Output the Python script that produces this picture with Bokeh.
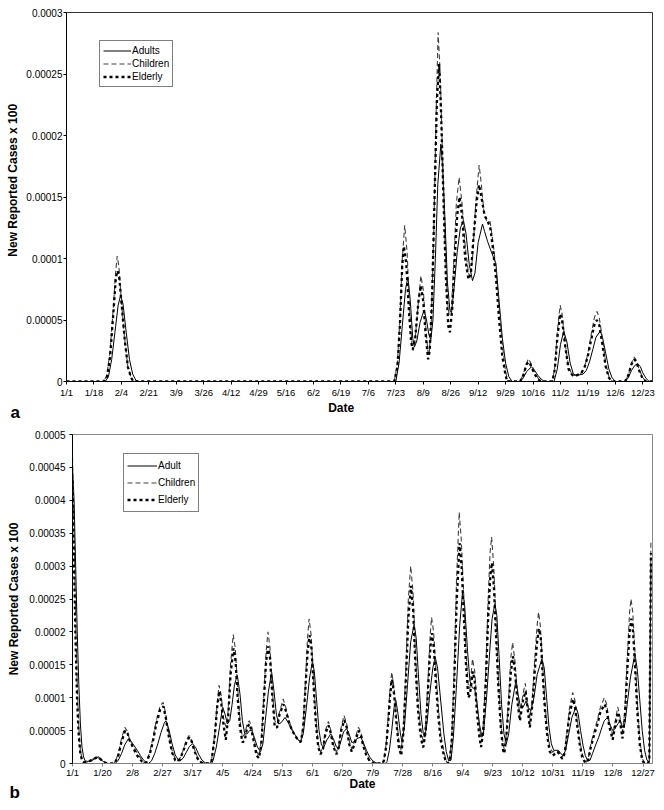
from bokeh.plotting import figure
from bokeh.models import (Range1d, FixedTicker, Legend, LegendItem, Title)
from bokeh.embed import file_html
from bokeh.resources import INLINE

# ---------------- DATA (values in units of 1e-5; x = day of year, 0 = 1/1) ----
SCALE = 1e-5

# Panel a
a_xtick_days = [0, 17, 34, 51, 68, 85, 102, 119, 136, 153, 170, 187, 204, 221,
                238, 255, 272, 289, 306, 323, 340, 357]
a_xtick_labels = ["1/1", "1/18", "2/4", "2/21", "3/9", "3/26", "4/12", "4/29",
                  "5/16", "6/2", "6/19", "7/6", "7/23", "8/9", "8/26", "9/12",
                  "9/29", "10/16", "11/2", "11/19", "12/6", "12/23"]
a_yticks = [0, 0.00005, 0.0001, 0.00015, 0.0002, 0.00025, 0.0003]
a_ytick_labels = ["0", "0.00005", "0.0001", "0.00015", "0.0002", "0.00025", "0.0003"]

a_adults = [(0, 0), (24, 0), (26, 0.4), (28, 1.8), (30, 4), (32, 6.2), (33.5, 7),
            (35, 6.3), (37, 4), (39, 1.8), (41, 0.6), (43, 0.1), (45, 0),
            (204, 0), (206, 1.5), (208, 4.5), (210, 7.5), (211.5, 8.5), (213, 6.5),
            (214.5, 3.5), (215.5, 2.8), (217, 3.3), (219, 4.8), (221.5, 5.8), (223, 5.0),
            (224.5, 3.8), (225.7, 3.4), (227, 5), (228.5, 10), (230, 16), (231.9, 19.3),
            (233, 17.5), (234.5, 13), (236, 8), (237.5, 5.8), (238.5, 5.6), (240, 7.5),
            (242, 10.5), (244, 12.5), (245.9, 13.1), (247.5, 12), (249.5, 9.5),
            (251.5, 8.2), (253, 8.8), (255, 11.3), (257.7, 12.8), (259, 12.2),
            (260.8, 11.4), (263, 10.6), (266, 9.6), (268, 6.5), (270, 3.5), (272, 1.5),
            (274, 0.4), (276, 0),
            (281, 0), (283, 0.3), (285, 0.8), (288, 1.2), (290, 0.9), (292, 0.5),
            (294, 0.2), (296, 0),
            (302, 0), (304, 1), (306, 3), (308, 4.1), (310, 3.2), (312, 1.5), (314, 0.6),
            (316, 0.5), (320, 0.6), (322, 0.9), (324, 1.6), (326, 2.6), (328, 3.6),
            (330.6, 4.1), (332, 3.6), (334, 2.3), (336, 1), (338, 0.3), (340, 0),
            (346, 0), (348, 0.3), (350, 0.9), (352, 1.3), (353.8, 1.45), (355.5, 1.2),
            (357, 0.7), (359, 0.25), (361, 0), (363, 0)]

a_children = [(0, 0), (23, 0), (25, 0.5), (27, 2.5), (29, 6), (30.5, 9), (31.4, 10.2),
              (32.5, 9.3), (34, 6.5), (36, 3.5), (38, 1.2), (40, 0.3), (41.5, 0),
              (203, 0), (205, 1.5), (206.5, 5), (208, 10), (209.5, 12.7), (211, 10.5),
              (212.5, 6), (214, 3), (214.7, 2.5), (216, 3.5), (218, 6.5), (219.5, 8.6),
              (221, 7.5), (222.5, 4.5), (224, 2.3), (224.6, 2.1), (226, 5), (227.5, 12),
              (229, 22), (230.2, 28.4), (231.5, 25), (233, 18), (234.5, 11), (236, 6.5),
              (237, 5.4), (238.5, 6), (240, 10), (241.5, 14.5), (243.2, 16.6), (245, 14.5),
              (247, 11), (249, 8.8), (250, 8.5), (251.5, 10), (253.5, 14.5), (255.6, 17.6),
              (257, 16), (258.7, 13.6), (260.5, 13), (262.4, 13), (264, 11.5), (266, 9.3),
              (268, 6), (270, 3), (272, 0.8), (273.5, 0),
              (281, 0), (283, 0.6), (285, 1.5), (286.2, 1.85), (288, 1.4), (290, 0.8),
              (292, 0.3), (294, 0),
              (301, 0), (302.5, 1.2), (304, 4), (305.8, 6.2), (307, 5.5), (309, 3),
              (311, 1.2), (313.5, 0.5), (316, 0.5), (319, 0.7), (321, 1.2), (323, 2.3),
              (325, 3.8), (327, 5.2), (328.6, 5.7), (330, 5.2), (332, 3.5), (334, 1.5),
              (336, 0.4), (338, 0),
              (346, 0), (348, 0.5), (350, 1.5), (351.7, 2), (353, 1.7), (355, 0.9),
              (357, 0.3), (359, 0), (363, 0)]

a_elderly = [(0, 0), (23, 0), (25, 0.3), (27, 2), (29, 5.5), (30.5, 8.3), (31.5, 9),
             (32.5, 8.7), (34, 6.5), (36, 3.5), (38, 1.2), (40, 0.3), (41.5, 0),
             (203, 0), (205, 1.2), (206.5, 4.5), (208, 9.5), (209, 11), (210.5, 9.5),
             (212, 6), (213.5, 3.2), (214.5, 2.6), (216, 3.5), (218, 6.5), (219.5, 7.8),
             (221, 6.5), (222.5, 3.8), (224, 1.8), (225, 2.5), (226.5, 7), (228, 15),
             (229.5, 23), (230.8, 25.8), (232, 22), (233.5, 15), (235, 8.5), (236.5, 4.5),
             (237.5, 4.0), (239, 6), (240.5, 10), (242, 13.5), (243.5, 15), (245, 13.5),
             (247, 10), (249, 8.3), (250.5, 8.8), (252, 11.5), (254, 14.5), (255.5, 16),
             (257, 15), (259, 13.5), (261, 13), (262.5, 12.5), (264, 11), (266, 8.5),
             (268, 5), (270, 2), (272, 0.5), (273, 0),
             (281, 0), (283, 0.5), (285, 1.4), (286.5, 1.6), (288, 1.2), (290, 0.6),
             (292, 0.2), (294, 0),
             (301, 0), (302.5, 1), (304, 3.5), (305.8, 5.5), (307, 5), (309, 2.8),
             (311, 1), (313.5, 0.5), (316, 0.5), (319, 0.7), (321, 1.2), (323, 2.1),
             (325, 3.4), (327, 4.6), (328.5, 5), (330, 4.6), (332, 3), (334, 1.2),
             (336, 0.3), (338, 0),
             (346, 0), (348, 0.5), (350, 1.4), (351.7, 1.8), (353, 1.6), (355, 0.8),
             (357, 0.2), (359, 0), (363, 0)]

# Panel b
b_xtick_days = [0, 19, 38, 57, 76, 95, 114, 133, 152, 171, 190, 209, 228, 247,
                266, 285, 304, 323, 342, 361]
b_xtick_labels = ["1/1", "1/20", "2/8", "2/27", "3/17", "4/5", "4/24", "5/13",
                  "6/1", "6/20", "7/9", "7/28", "8/16", "9/4", "9/23", "10/12",
                  "10/31", "11/19", "12/8", "12/27"]
b_yticks = [0, 0.00005, 0.0001, 0.00015, 0.0002, 0.00025, 0.0003, 0.00035,
            0.0004, 0.00045, 0.0005]
b_ytick_labels = ["0", "0.00005", "0.0001", "0.00015", "0.0002", "0.00025",
                  "0.0003", "0.00035", "0.0004", "0.00045", "0.0005"]

b_adult = [(0, 45), (1, 40), (2, 30), (3, 20), (4, 12), (5, 6), (6, 2.5), (7, 1), (8, 0.4),
           (10, 0.3), (12, 0.4), (14, 0.7), (16, 0.9), (18, 0.6), (20, 0.2), (22, 0), (27, 0),
           (29, 0.5), (31, 1.5), (33, 2.8), (35.3, 3.75), (37, 3.4), (39, 2.7), (41, 2),
           (43, 1.2), (45, 0.5), (47, 0.1), (48, 0),
           (50, 0.4), (52, 1.5), (54, 3), (56, 4.7), (58, 6.1), (59.1, 6.5), (61, 5.2),
           (63, 3), (65, 1.3), (67, 0.5), (68, 0.4), (70, 0.8), (72, 1.7), (74, 2.6),
           (76, 3), (78, 2.4), (80, 1.3), (82, 0.5), (84, 0.1), (86, 0), (88, 0),
           (89, 0.5), (91, 2.5), (93, 5.5), (95, 8.6), (96.5, 7.5), (98, 6), (99.5, 6.5),
           (101, 9), (102.5, 12), (104.3, 13.4), (106, 10.5), (107.5, 6.5), (109, 4.5),
           (110.5, 4.5), (112, 5), (113.5, 5), (115, 4), (117, 2.5), (119, 1.8),
           (120.5, 3), (122, 6.5), (124, 11), (126, 13.9), (127.5, 11), (129, 7.5),
           (130.5, 6), (132, 6.2), (134.5, 7), (136.5, 6.2), (139, 5), (141, 4.3),
           (143, 3.5), (144.5, 3.4), (146, 4.5), (148, 8.5), (150, 13), (151.8, 15.5),
           (153, 14), (154.5, 9.5), (156, 5), (157.5, 2.8), (159, 2.5), (161, 3.6),
           (163.4, 4.5), (165, 3.8), (167, 2.5), (168.5, 2.3), (170, 3.5), (171.5, 4.8),
           (173.5, 5.3), (175, 4.5), (176.7, 3.2), (178.5, 3.3), (180, 3.8), (182.4, 4),
           (184, 3.2), (186, 2), (188, 1), (190, 0.4), (192, 0.1), (194, 0), (198, 0),
           (199, 0.3), (200.5, 2), (202, 5), (203.5, 8.5), (204.6, 9.6), (206, 7.5),
           (207.5, 4.5), (208.5, 3.3), (210, 5.5), (212, 12), (214, 18.5), (216.2, 21.2),
           (217.5, 19), (219, 13), (220.5, 7.5), (222, 4.5), (223, 4), (224.5, 6.5),
           (226, 10.5), (228, 14.5), (229.5, 16.2), (231, 14.5), (233, 9.5), (235, 4.5),
           (236.5, 1.8), (238, 0.4), (239.5, 0.5), (241, 4), (243, 12), (245, 21),
           (246.8, 26), (248, 24.5), (250, 17), (251.5, 12.5), (253, 11.5), (254.5, 11.4),
           (256, 9), (257.5, 6), (259, 4), (260, 4.5), (262, 10), (264, 17), (265.5, 22),
           (267.3, 24.3), (268.5, 22.5), (270, 16), (271.5, 9), (273, 4.5), (274.5, 3),
           (276, 4.5), (278, 9), (280.6, 12.6), (282, 10.5), (283.5, 8.5), (285, 8.5),
           (287, 9.5), (288.5, 8.5), (290, 8), (292, 10), (294, 13.5), (297, 15.9),
           (298.5, 14.5), (300, 10), (301.5, 5.5), (303, 3), (304.5, 2), (306, 2),
           (307.5, 2), (309, 1.5), (310.5, 1.2), (312, 2), (314, 4.5), (316, 7),
           (318.6, 8.6), (320, 7.5), (321.5, 5), (323, 2.8), (324.5, 1.2), (326, 0.4),
           (327.5, 0.5), (329, 1.5), (331, 2.8), (333, 4), (335, 5.5), (336.5, 6.5),
           (338.6, 7), (340, 6), (341.8, 5), (343, 5.2), (345, 6), (346.5, 6.5),
           (348, 5.5), (349.5, 6), (351, 9), (353, 13), (355.9, 16.7), (357.5, 14),
           (359, 9.5), (360.5, 5), (362, 2), (363.5, 0.5), (365, 0.2), (366, 30)]

b_children = [(0, 46.5), (1, 35), (2, 22), (3, 12), (4, 5.5), (5, 2), (6, 0.7), (7, 0.3),
              (9, 0.2), (11, 0.4), (13, 0.7), (15, 1), (16.5, 1), (18, 0.7), (20, 0.3),
              (22, 0), (26, 0),
              (27, 0.3), (29, 1.5), (31, 3.8), (33.1, 5.5), (34.5, 5), (36, 3.8), (38, 2.8),
              (40, 2), (42, 1.2), (44, 0.5), (46, 0),
              (47, 0.4), (49, 1.8), (51, 4), (53, 6.5), (55.5, 8.8), (57.4, 9.3), (59, 7.5),
              (61, 4.5), (63, 2), (65, 0.7), (66.5, 0.4), (68, 0.8), (70, 2), (72, 3.5),
              (73.7, 4.25), (75.5, 3.5), (77, 2.3), (79, 1), (81, 0.3), (83, 0), (87, 0),
              (88, 0.5), (90, 4.5), (91.5, 9), (92.7, 11.9), (94, 10.5), (95.5, 7),
              (97, 5.6), (98.5, 8), (100, 15), (101.7, 19.6), (103, 17.5), (104.5, 11.5),
              (106, 6.5), (107.5, 4), (109, 4.5), (110.5, 6), (111.9, 6.5), (113.5, 5.5),
              (115, 3.5), (116.5, 1.8), (118, 1.2), (119.5, 3.5), (121, 10), (122.5, 17),
              (123.7, 20), (125, 17.5), (126.5, 11), (128, 6.5), (129.5, 6), (131, 7.8),
              (133.3, 9.8), (135, 8.5), (137, 6.5), (139, 5.2), (141, 4.3), (143, 3.5),
              (144.5, 3.3), (146, 6), (147.5, 13), (148.7, 19), (149.7, 22), (151, 19.5),
              (152.5, 13), (154, 7), (155.5, 3), (157, 1.7), (158.5, 2.5), (160, 5),
              (161.9, 6.4), (163.5, 5), (165, 3), (167, 1.7), (168.5, 2.8), (170, 5.5),
              (171.8, 7.3), (173.5, 6), (175, 3.5), (176.7, 2.2), (178.5, 3.5),
              (180.9, 5.5), (182.5, 4.8), (184, 3), (186, 1.5), (188, 0.5), (190, 0.1),
              (191, 0), (196, 0),
              (197, 0.5), (198.5, 3), (200, 8), (201, 11.5), (202, 13.9), (203.5, 11.5),
              (205, 7), (206.5, 3.5), (208, 2), (209.5, 6), (211, 15), (212.5, 25),
              (214, 30), (215.5, 26), (217, 17), (218.5, 10), (220, 6), (221.5, 3.8),
              (222, 3.5), (223.5, 6), (225, 13), (226.3, 19.5), (227.2, 22.2), (228.5, 20),
              (230, 14), (231.5, 8.5), (233, 4.5), (235, 1.8), (236.5, 0.4), (237.5, 0),
              (238.5, 0.3), (240, 4), (241.5, 14), (243, 28), (244.7, 38.2), (246, 34),
              (247.5, 26), (249, 17), (250.5, 11.5), (251.5, 11.5), (253.1, 15.9),
              (254.5, 14), (256, 9), (257.5, 5.5), (258.5, 3.8), (260, 6), (261.5, 14),
              (263, 25), (264.2, 32), (265.2, 34.4), (266.5, 30), (268, 22), (269.5, 13),
              (271, 6.5), (272.5, 2.8), (273.2, 2.2), (274.5, 4.5), (276, 10), (277.3, 16),
              (278.5, 18.4), (280, 15.5), (281.5, 10.5), (283.1, 7.3), (285, 10.5),
              (286.5, 12.2), (288, 9), (289.4, 7), (291, 10), (292.5, 16), (294, 21),
              (294.9, 23), (296, 21), (297.5, 15), (299, 9), (300.5, 5), (302, 2.5),
              (303.8, 1.7), (305.5, 2), (307, 2), (308.5, 1.5), (310, 1), (311.5, 2),
              (313, 5), (314.5, 8.5), (316.5, 10.8), (318, 9.5), (319.5, 6.5), (321, 3.5),
              (322.5, 1.5), (324, 0.5), (325.3, 0.2), (326.5, 1), (328, 3), (330.2, 5),
              (332, 6.5), (334, 8.5), (336.5, 10), (338, 9), (339.5, 6.5), (341.8, 4.3),
              (343.5, 6.5), (345, 8.6), (346.5, 7), (348, 4.8), (349.5, 8), (351, 16),
              (352.5, 23), (353.4, 25), (354.5, 23), (356, 16.5), (357.5, 9), (359, 3.5),
              (360.5, 0.8), (362, 0), (364, 0), (365, 0.5), (366, 34)]

b_elderly = [(0, 43), (1, 30), (2, 18), (3, 9), (4, 4), (5, 1.5), (6, 0.5), (7, 0.2),
             (9, 0.2), (11, 0.4), (13, 0.6), (15, 0.9), (16.5, 0.9), (18, 0.6), (20, 0.2),
             (22, 0), (26, 0),
             (27, 0.2), (29, 1.2), (31, 3.3), (33.3, 5), (34.8, 4.6), (36, 3.6), (38, 2.6),
             (40, 1.6), (42, 0.8), (44, 0.3), (46, 0),
             (47, 0.3), (49, 1.5), (51, 3.5), (53, 6), (55.5, 8.2), (57.5, 8.7), (59, 7),
             (61, 4), (63, 1.7), (65, 0.5), (66.5, 0.3), (68, 0.7), (70, 1.8), (72, 3.2),
             (73.9, 4), (75.5, 3.3), (77, 2), (79, 0.8), (81, 0.2), (83, 0), (87, 0),
             (88, 0.4), (90, 4), (91.5, 8.5), (92.9, 11), (94, 9.5), (95.5, 6), (97, 3.6),
             (98.5, 7), (100, 13.5), (101.9, 17.5), (103.2, 15.5), (104.5, 10), (106, 5.5),
             (107.5, 3.2), (109, 3.5), (110.5, 5.5), (112, 6), (113.5, 4.8), (115, 3),
             (116.5, 1.2), (118, 0.8), (119.5, 3), (121, 9), (122.5, 15.5), (123.8, 17.8),
             (125, 16), (126.5, 10), (128, 5.5), (129.5, 5.5), (131, 7.5), (133.5, 9),
             (135, 8), (137, 6.2), (139, 5), (141, 4.2), (143, 3.4), (144.5, 3.3),
             (146, 5.5), (147.5, 12), (148.8, 17), (150, 19.5), (151.2, 17.5), (152.5, 12),
             (154, 6), (155.5, 2.5), (157, 1.4), (158.5, 2.2), (160, 4.5), (162, 5.8),
             (163.5, 4.5), (165, 2.6), (167, 1.4), (168.5, 2.5), (170, 5), (172, 6.6),
             (173.5, 5.5), (175, 3), (176.7, 1.8), (178.5, 3), (181, 5), (182.5, 4.3),
             (184, 2.6), (186, 1.2), (188, 0.4), (190, 0.1), (191, 0), (196, 0),
             (197, 0.4), (198.5, 2.6), (200, 7), (201, 10.5), (202.2, 12.8), (203.5, 10.5),
             (205, 6), (206.5, 2.5), (208, 1.2), (209.5, 5), (211, 13), (212.5, 22),
             (214.2, 27), (215.5, 23.5), (217, 15), (218.5, 8.5), (220, 4.8), (221.5, 2.6),
             (222, 2.5), (223.5, 5), (225, 11.5), (226.4, 17.5), (227.4, 19.8),
             (228.7, 17.5), (230, 12), (231.5, 7), (233, 3.5), (235, 1.2), (236.5, 0.2),
             (237.5, 0), (238.5, 0.2), (240, 3.5), (241.5, 12), (243, 24), (244.9, 33.5),
             (246.2, 30), (247.5, 23), (249, 15), (250.5, 10), (251.5, 10.5), (253.3, 14),
             (254.5, 12.5), (256, 7.5), (257.5, 4), (258.5, 2.5), (260, 5), (261.5, 12),
             (263, 22), (264.4, 28.5), (265.4, 30.5), (266.6, 27), (268, 19.5),
             (269.5, 11.5), (271, 5.5), (272.5, 2), (273.2, 1.5), (274.5, 4), (276, 9),
             (277.4, 14), (278.7, 16.3), (280, 14), (281.5, 9.5), (283.1, 6.5), (285, 9.5),
             (286.7, 11), (288, 8.3), (289.4, 5.5), (291, 9), (292.5, 14), (294, 18.5),
             (295.1, 20.5), (296.3, 19), (297.5, 13.5), (299, 8), (300.5, 4), (302, 1.8),
             (303.8, 1.2), (305.5, 1.5), (307, 1.8), (308.5, 1.2), (310, 0.7),
             (311.5, 1.6), (313, 4.5), (314.5, 7.5), (316.7, 9.8), (318, 8.5),
             (319.5, 5.5), (321, 2.8), (322.5, 1), (324, 0.3), (325.3, 0.1), (326.5, 0.7),
             (328, 2.5), (330.2, 4.5), (332, 5.8), (334, 7.8), (336.7, 9), (338, 8.2),
             (339.5, 5.8), (341.8, 3.6), (343.5, 6), (345.2, 7.8), (346.5, 6.3),
             (348, 3.8), (349.5, 7), (351, 14), (352.5, 20), (353.6, 22), (354.7, 20),
             (356, 14.5), (357.5, 7.5), (359, 2.8), (360.5, 0.5), (362, 0), (364, 0),
             (365, 0.5), (366, 32)]

# ---------------- STYLE -------------------------------------------------------
FONT = "Liberation Sans"
NBSP = "\u00a0"


def xy(series):
    xs = [d for d, _ in series]
    ys = [v * SCALE for _, v in series]
    return xs, ys


def make_panel(width, height, borders, xmax, ymax, xticks, xlabels, yticks, ylabels,
               series, names, legend_loc, legend_item_h, glyph_w, ylab, xlab,
               frame_color, bottom_color, letter, letter_offset, letter_standoff,
               y_std, y_lab_std, x_std, x_lab_std):
    left, right, top, bottom = borders
    p = figure(width=width, height=height, output_backend="svg", toolbar_location=None,
               x_range=Range1d(0, xmax), y_range=Range1d(0, ymax),
               min_border_left=left, min_border_right=right,
               min_border_top=top, min_border_bottom=bottom)
    p.grid.visible = False
    p.outline_line_color = frame_color
    p.outline_line_width = 1
    p.background_fill_color = "white"

    p.xaxis.ticker = FixedTicker(ticks=xticks)
    p.xaxis.major_label_overrides = dict(zip(xticks, xlabels))
    p.yaxis.ticker = FixedTicker(ticks=yticks)
    p.yaxis.major_label_overrides = dict(zip(yticks, ylabels))

    for ax in (p.xaxis, p.yaxis):
        ax.minor_tick_line_color = None
        ax.major_tick_in = 0
        ax.major_tick_out = 3
        ax.major_label_text_font = FONT
        ax.major_label_text_color = "black"
        ax.axis_label_text_font = FONT
        ax.axis_label_text_font_style = "bold"
        ax.axis_label_text_font_size = "12px"
        ax.axis_label_text_color = "black"
    p.yaxis.major_label_text_font_size = "10px"
    p.xaxis.major_label_text_font_size = "9.5px"
    p.yaxis.major_label_standoff = y_std
    p.xaxis.major_label_standoff = x_std
    p.yaxis.axis_label_standoff = y_lab_std
    p.xaxis.axis_label_standoff = x_lab_std
    p.yaxis.axis_line_color = "black"
    p.yaxis.major_tick_line_color = "black"
    p.xaxis.axis_line_color = bottom_color
    p.xaxis.major_tick_line_color = bottom_color
    p.yaxis.axis_label = ylab
    p.xaxis.axis_label = xlab

    styles = [dict(line_color="black", line_width=1),
              dict(line_color="#404040", line_width=1.1, line_dash="5 3"),
              dict(line_color="black", line_width=2.3, line_dash="3 3")]
    items = []
    for s, name, st in zip(series, names, styles):
        xs, ys = xy(s)
        r = p.line(xs, ys, **st)
        items.append(LegendItem(label=name, renderers=[r]))

    legend = Legend(items=items, location=legend_loc,
                    border_line_color="black", border_line_width=1,
                    background_fill_color="white", background_fill_alpha=1,
                    label_text_font=FONT, label_text_font_size="10px",
                    label_text_color="black",
                    glyph_width=glyph_w, glyph_height=legend_item_h,
                    label_height=legend_item_h, spacing=0, padding=3, margin=0,
                    label_standoff=1)
    p.add_layout(legend)

    # panel letter, drawn as a title under the x axis, pulled to the far left
    p.add_layout(Title(text=letter, align="left", vertical_align="top",
                       offset=letter_offset, standoff=letter_standoff,
                       text_font=FONT, text_font_size="17px",
                       text_font_style="bold", text_color="black"), "below")
    return p


pa = make_panel(664, 422, (66, 12, 12, 41), 363, 0.0003,
                a_xtick_days, a_xtick_labels, a_yticks, a_ytick_labels,
                [a_adults, a_children, a_elderly], ["Adults", "Children", "Elderly"],
                (33, 294), 13, 28,
                NBSP * 10 + "New Reported Cases x 100", "Date" + NBSP * 11,
                "#333333", "black", "a", -56, -30,
                1, 3, 2, 0)

pb = make_panel(664, 386, (72, 12, 12, 45), 367, 0.0005,
                b_xtick_days, b_xtick_labels, b_yticks, b_ytick_labels,
                [b_adult, b_children, b_elderly], ["Adult", "Children", "Elderly"],
                (51, 251), 17, 30,
                "New Reported Cases x 100", "Date",
                "#8a8a8a", "#808080", "b", -63, -22,
                4, 5, 0, -4)

# two independent roots, so the two plot frames are not forced to share a left edge
open("out.html", "w").write(file_html([pa, pb], INLINE))
